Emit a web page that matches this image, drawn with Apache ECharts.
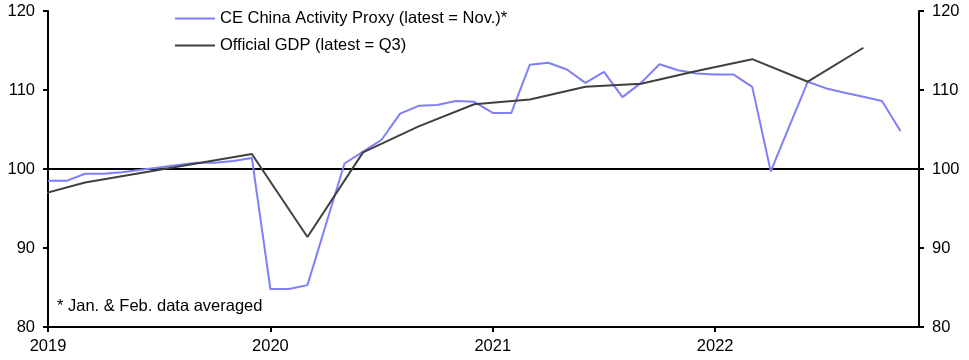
<!DOCTYPE html>
<html>
<head>
<meta charset="utf-8">
<script src="https://cdn.jsdelivr.net/npm/echarts@6/dist/echarts.min.js"></script>
<style>html,body{margin:0;padding:0;background:#fff;}#c{width:969px;height:360px;}</style>
</head>
<body>
<div id="c"></div>
<script>
// CE China Activity Proxy, monthly Jan 2019 - Nov 2022
const proxyMonths = [
  '2019-01','2019-02','2019-03','2019-04','2019-05','2019-06','2019-07','2019-08','2019-09','2019-10','2019-11','2019-12',
  '2020-01','2020-02','2020-03','2020-04','2020-05','2020-06','2020-07','2020-08','2020-09','2020-10','2020-11','2020-12',
  '2021-01','2021-02','2021-03','2021-04','2021-05','2021-06','2021-07','2021-08','2021-09','2021-10','2021-11','2021-12',
  '2022-01','2022-02','2022-03','2022-04','2022-05','2022-06','2022-07','2022-08','2022-09','2022-10','2022-11'
];
const proxyValues = [
  98.5, 98.5, 99.4, 99.4, 99.6, 99.9, 100.2, 100.5, 100.8, 100.8, 101.0, 101.4,
  84.8, 84.8, 85.3, 93.0, 100.7, 102.2, 103.7, 107.0, 108.0, 108.1, 108.6, 108.5,
  107.1, 107.1, 113.2, 113.45, 112.6, 110.9, 112.3, 109.1, 110.9, 113.25, 112.5, 112.1,
  111.95, 111.95, 110.4, 99.7, 105.4, 111.05, 110.2, 109.65, 109.15, 108.6, 104.8
];
// Official GDP, quarterly (plotted at quarter-end month), Q4 2018 - Q3 2022
const gdpMonths = [
  '2018-12','2019-03','2019-06','2019-09','2019-12',
  '2020-03','2020-06','2020-09','2020-12',
  '2021-03','2021-06','2021-09','2021-12',
  '2022-03','2022-06','2022-09'
];
const gdpValues = [
  96.4, 98.3, 99.5, 100.7, 101.9,
  91.4, 102.1, 105.4, 108.2,
  108.8, 110.4, 110.8, 112.4,
  113.9, 111.05, 115.35
];
const yearTicks = [2019, 2020, 2021, 2022];
const yTicks = [80, 90, 100, 110, 120];
const legendNames = ['CE China Activity Proxy (latest = Nov.)*', 'Official GDP (latest = Q3)'];
const footnote = '* Jan. & Feb. data averaged';

function toX(m) {
  const [y, mo] = m.split('-').map(Number);
  return y + (mo - 1) / 12;
}
const proxyData = proxyMonths.map((m, i) => [toX(m), proxyValues[i]]);
const gdpData = gdpMonths.map((m, i) => [toX(m), gdpValues[i]]);

const FONT = 'Liberation Sans, Arial, sans-serif';
const FS = 16.5;
const chart = echarts.init(document.getElementById('c'), null, {renderer: 'canvas'});
const yAxisCommon = {
  type: 'value', min: yTicks[0], max: yTicks[yTicks.length - 1], interval: 10,
  splitLine: {show: false},
  axisLine: {show: true, lineStyle: {color: '#000', width: 2}},
  axisTick: {show: true, length: 5, lineStyle: {color: '#000', width: 2}},
  axisLabel: {color: '#000', fontSize: FS, fontFamily: FONT, margin: 13}
};
chart.setOption({
  animation: false,
  backgroundColor: '#fff',
  textStyle: {fontFamily: FONT},
  grid: {left: 48, right: 50, top: 11, bottom: 33, containLabel: false},
  legend: {
    data: legendNames, orient: 'vertical', left: 170, top: 5,
    icon: 'rect', itemWidth: 40, itemHeight: 2, itemGap: 10,
    textStyle: {color: '#000', fontSize: FS, fontFamily: FONT},
    selectedMode: false
  },
  graphic: [{
    type: 'text', left: 57, top: 298,
    style: {text: footnote, fill: '#000', font: FS + 'px ' + FONT}
  }],
  xAxis: {
    type: 'value', min: 2019, max: 2022 + 11 / 12,
    splitLine: {show: false},
    axisLine: {show: true, onZero: false, lineStyle: {color: '#000', width: 2}},
    axisTick: {show: true, length: 5, customValues: yearTicks, lineStyle: {color: '#000', width: 2}},
    axisLabel: {customValues: yearTicks, color: '#000', fontSize: FS, fontFamily: FONT, margin: 11,
      formatter: v => String(Math.round(v))}
  },
  yAxis: [
    Object.assign({position: 'left'}, yAxisCommon),
    Object.assign({position: 'right'}, yAxisCommon)
  ],
  series: [
    {
      name: legendNames[0], type: 'line', data: proxyData, symbol: 'none',
      lineStyle: {color: '#7f7ff7', width: 2}, itemStyle: {color: '#7f7ff7'}, z: 3,
      markLine: {
        silent: true, symbol: 'none', label: {show: false},
        lineStyle: {color: '#000', width: 2, type: 'solid'},
        data: [{yAxis: 100}], z: 2
      }
    },
    {
      name: legendNames[1], type: 'line', data: gdpData, symbol: 'none',
      lineStyle: {color: '#404040', width: 2}, itemStyle: {color: '#404040'}, z: 4
    }
  ]
});
</script>
</body>
</html>
